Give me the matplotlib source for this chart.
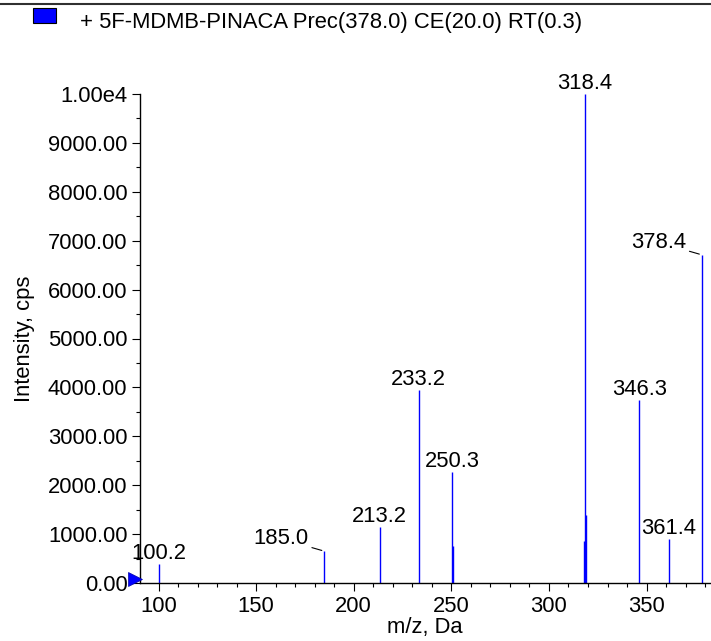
import matplotlib
matplotlib.use("Agg")
import matplotlib.pyplot as plt
from matplotlib.ticker import MultipleLocator, FuncFormatter
from matplotlib.patches import Rectangle
from matplotlib.lines import Line2D
import matplotlib.transforms as mtransforms

# ---- data ----
mz = [100.2, 185.0, 213.2, 233.2, 250.3, 251.0, 317.8, 318.4, 319.2, 346.3, 361.4, 378.4]
intensity = [390, 650, 1140, 3940, 2270, 750, 850, 10000, 1400, 3740, 910, 6710]
labels = ["100.2", "185.0", "213.2", "233.2", "250.3", None, None, "318.4", None, "346.3", "361.4", "378.4"]
leader = ["185.0", "378.4"]
title = "+ 5F-MDMB-PINACA Prec(378.0) CE(20.0) RT(0.3)"
x_label = "m/z, Da"
y_label = "Intensity, cps"
xlim = (90.5, 382.5)
ylim = (0, 10000)

plt.rcParams['font.family'] = ['Liberation Sans', 'DejaVu Sans']
FS = 15.8

fig = plt.figure(figsize=(7.11, 6.41), dpi=100)
W, H = 711, 641
ax = fig.add_axes([140 / W, (H - 583) / H, 570 / W, (583 - 94) / H])

ax.vlines(mz, 0, intensity, colors='#0000ff', linewidth=1.0)

ax.set_xlim(*xlim)
ax.set_ylim(*ylim)

for s in ['top', 'right']:
    ax.spines[s].set_visible(False)
for s in ['left', 'bottom']:
    ax.spines[s].set_linewidth(1.0)
    ax.spines[s].set_color('black')

ax.xaxis.set_major_locator(MultipleLocator(50))
ax.xaxis.set_minor_locator(MultipleLocator(10))
ax.yaxis.set_major_locator(MultipleLocator(1000))
ax.yaxis.set_minor_locator(MultipleLocator(500))


def yfmt(v, pos):
    if v >= 10000:
        return "1.00e4"
    return "%.2f" % v


ax.yaxis.set_major_formatter(FuncFormatter(yfmt))
ax.tick_params(axis='both', which='major', length=5.5, width=0.8, labelsize=FS, color='black')
ax.tick_params(axis='both', which='minor', length=3, width=0.8, color='black')
ax.tick_params(axis='y', which='major', pad=3.5)
ax.tick_params(axis='x', which='major', pad=4)

ax.set_xlabel(x_label, fontsize=FS)
ax.set_ylabel(y_label, fontsize=FS)
ax.xaxis.set_label_coords(0.5, (583 - 617) / 489)
ax.yaxis.set_label_coords((35 - 140) / 570, 0.5)

# peak labels
for x, y, lab in zip(mz, intensity, labels):
    if lab is None:
        continue
    if lab in leader:
        ax.annotate(lab, xy=(x, y), xytext=(-16, 12.5), textcoords='offset pixels',
                    ha='right', va='center', fontsize=FS, annotation_clip=False,
                    arrowprops=dict(arrowstyle='-', color='black', lw=0.8,
                                    shrinkA=0.5, shrinkB=2))
    else:
        ax.annotate(lab, xy=(x, y), xytext=(0, 5), textcoords='offset pixels',
                    ha='center', va='baseline', fontsize=FS, annotation_clip=False)

# precursor / baseline triangle marker at the axis start
trans = mtransforms.offset_copy(ax.transData, fig=fig, x=-5, y=4, units='dots')
ax.plot([xlim[0]], [ylim[0]], marker='>', markersize=10, color='#0000ff',
        markeredgecolor='#0000aa', markeredgewidth=0.5, transform=trans, clip_on=False, zorder=5)

# header: top rule, legend square and title
fig.add_artist(Line2D([0, 1], [1 - 4 / H, 1 - 4 / H], transform=fig.transFigure,
                      color='#303030', linewidth=1.5))
fig.add_artist(Rectangle((33 / W, 1 - 23 / H), 23 / W, 15 / H, transform=fig.transFigure,
                         facecolor='#0000ff', edgecolor='black', linewidth=0.8))
fig.text(80 / W, 1 - 28 / H, title, fontsize=FS, ha='left', va='baseline')

fig.savefig("out.png", dpi=100)
